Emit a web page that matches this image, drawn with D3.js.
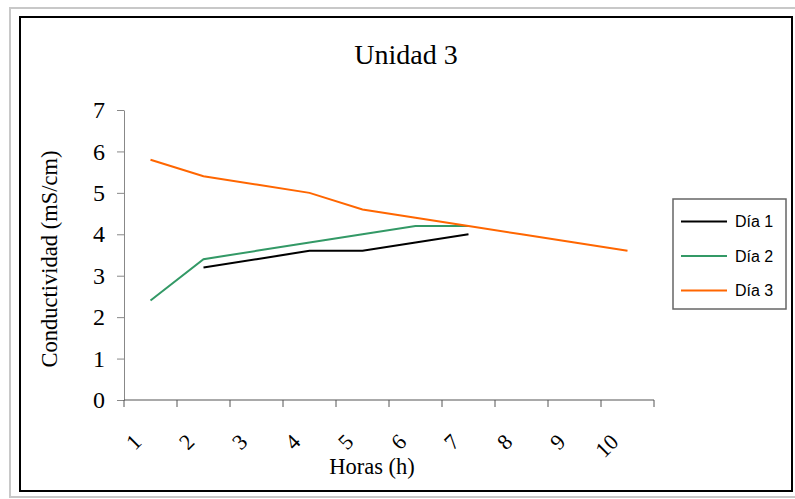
<!DOCTYPE html>
<html lang="en">
<head>
<meta charset="utf-8">
<title>Unidad 3</title>
<script src="https://cdn.jsdelivr.net/npm/d3@7"></script>
<style>
  body { margin: 0; background: #fff; }
  svg { display: block; }
</style>
</head>
<body>
<script>
// chart data
var horas = [1, 2, 3, 4, 5, 6, 7, 8, 9, 10];
var dia1 = [null, 3.2, 3.4, 3.6, 3.6, 3.8, 4.0, null, null, null];
var dia2 = [2.4, 3.4, 3.6, 3.8, 4.0, 4.2, 4.2, null, null, null];
var dia3 = [5.8, 5.4, 5.2, 5.0, 4.6, 4.4, 4.2, 4.0, 3.8, 3.6];
var yTicks = [0, 1, 2, 3, 4, 5, 6, 7];
var seriesNames = ["Día 1", "Día 2", "Día 3"];
var seriesColors = ["#000000", "#339966", "#ff6600"];

var w = 795, h = 499;
var serif = "'Liberation Serif', 'Times New Roman', serif";
var sans = "'Liberation Sans', Arial, sans-serif";

var svg = d3.select("body").append("svg")
  .attr("width", w)
  .attr("height", h);

// outer frames
svg.append("rect")
  .attr("x", 10).attr("y", 8)
  .attr("width", 800).attr("height", 489)
  .attr("fill", "none").attr("stroke", "#c8c8c8").attr("stroke-width", 2);
svg.append("rect")
  .attr("x", 20).attr("y", 17)
  .attr("width", 772).attr("height", 474)
  .attr("fill", "none").attr("stroke", "#000").attr("stroke-width", 2);

var x = d3.scaleBand()
  .domain(horas)
  .range([124, 654])
  .padding(0);

var y = d3.scaleLinear()
  .domain([0, 7])
  .range([400, 110]);

// y axis
var yAxis = svg.append("g")
  .attr("transform", "translate(124,0)")
  .call(d3.axisLeft(y).tickValues(yTicks).tickFormat(d3.format("d"))
    .tickSize(7).tickSizeOuter(0).tickPadding(12));
yAxis.attr("font-family", null).attr("font-size", null);
yAxis.select(".domain").attr("stroke", "#888");
yAxis.selectAll(".tick line").attr("stroke", "#888");
yAxis.selectAll(".tick text")
  .style("font-family", serif)
  .style("font-size", "24px")
  .attr("fill", "#000");

// x axis line and ticks at category boundaries
var bounds = d3.range(horas.length + 1).map(function(k) { return x.range()[0] + k * x.step(); });
svg.append("line")
  .attr("x1", x.range()[0]).attr("x2", x.range()[1])
  .attr("y1", y(0)).attr("y2", y(0))
  .attr("stroke", "#555");
svg.selectAll(".xtick")
  .data(bounds)
  .enter().append("line")
  .attr("class", "xtick")
  .attr("x1", function(d) { return d; }).attr("x2", function(d) { return d; })
  .attr("y1", y(0)).attr("y2", y(0) + 7)
  .attr("stroke", "#555");

svg.selectAll(".xlabel")
  .data(horas)
  .enter().append("text")
  .attr("text-anchor", "end")
  .attr("dominant-baseline", "central")
  .style("font-family", serif)
  .style("font-size", "22px")
  .attr("transform", function(d) {
    return "translate(" + (x(d) + x.bandwidth() / 2 - 13) + ",438) rotate(-45)";
  })
  .text(function(d) { return d; });

// titles
svg.append("text")
  .attr("x", 406).attr("y", 64)
  .attr("text-anchor", "middle")
  .style("font-family", serif)
  .style("font-size", "28px")
  .text("Unidad 3");

svg.append("text")
  .attr("x", 372).attr("y", 474)
  .attr("text-anchor", "middle")
  .style("font-family", serif)
  .style("font-size", "22.5px")
  .text("Horas (h)");

svg.append("text")
  .attr("transform", "translate(57,259) rotate(-90)")
  .attr("text-anchor", "middle")
  .style("font-family", serif)
  .style("font-size", "22.5px")
  .text("Conductividad (mS/cm)");

// lines
var line = d3.line()
  .defined(function(d) { return d[1] != null; })
  .x(function(d) { return x(d[0]) + x.bandwidth() / 2; })
  .y(function(d) { return y(d[1]); });

[dia1, dia2, dia3].forEach(function(vals, i) {
  svg.append("path")
    .datum(horas.map(function(hh, j) { return [hh, vals[j]]; }))
    .attr("fill", "none")
    .attr("stroke", seriesColors[i])
    .attr("stroke-width", 2)
    .attr("d", line);
});

// legend
var legend = svg.append("g");
legend.append("rect")
  .attr("x", 673).attr("y", 199)
  .attr("width", 113).attr("height", 110)
  .attr("fill", "#fff").attr("stroke", "#666").attr("stroke-width", 1.5);

var items = legend.selectAll(".item")
  .data(seriesNames)
  .enter().append("g")
  .attr("transform", function(d, i) { return "translate(0," + (221.5 + i * 34.5) + ")"; });
items.append("line")
  .attr("x1", 681).attr("x2", 727)
  .attr("stroke", function(d, i) { return seriesColors[i]; })
  .attr("stroke-width", 2);
items.append("text")
  .attr("x", 735)
  .attr("dominant-baseline", "central")
  .style("font-family", sans)
  .style("font-size", "16px")
  .text(function(d) { return d; });
</script>
</body>
</html>
